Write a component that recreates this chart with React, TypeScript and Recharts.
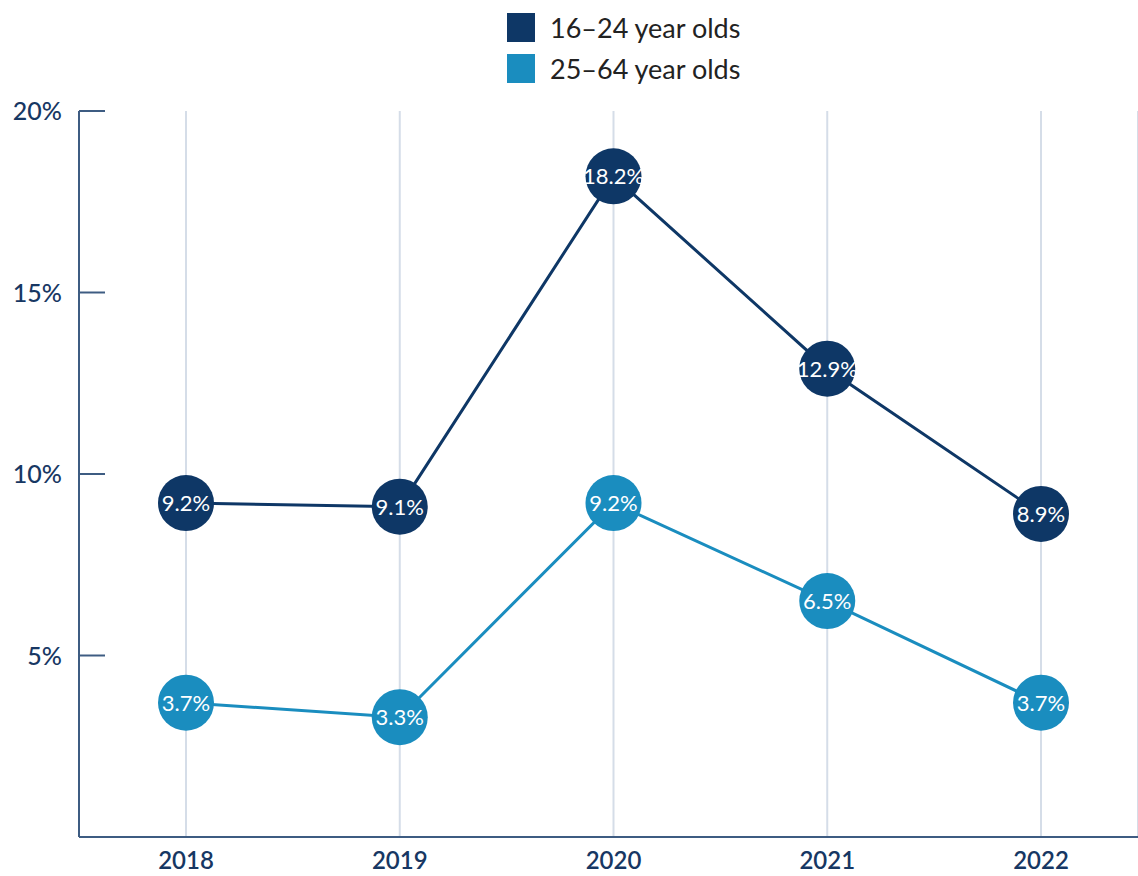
import React from "react";
import { LineChart, Line, XAxis, YAxis, CartesianGrid } from "recharts";

const years = ["2018", "2019", "2020", "2021", "2022"];
const youth = [9.2, 9.1, 18.2, 12.9, 8.9];
const adults = [3.7, 3.3, 9.2, 6.5, 3.7];
const yTicks = [5, 10, 15, 20];
const seriesNames = ["16–24 year olds", "25–64 year olds"];

const DARK = "#0e3766";
const LIGHT = "#1a8dbf";
const AXIS = "#3e5c82";
const TEXT = "#173763";
const FONT = "Lato, 'Open Sans', sans-serif";

const data = years.map((y, i) => ({ year: y, youth: youth[i], adults: adults[i] }));

const makeDot = (color: string) => (props: any) => {
  const { cx, cy, value, index } = props;
  if (cx == null || cy == null) return null;
  return (
    <g key={`d-${color}-${index}`}>
      <circle cx={cx} cy={cy} r={28} fill={color} />
      <text
        x={cx}
        y={cy}
        dy="0.36em"
        textAnchor="middle"
        fill="#ffffff"
        fontSize={22}
        fontWeight={400}
        fontFamily={FONT}
      >
        {`${value}%`}
      </text>
    </g>
  );
};

const YTick = (props: any) => {
  const { x, y, payload } = props;
  return (
    <g>
      <line x1={x + 17} x2={x + 43} y1={y} y2={y} stroke={AXIS} strokeWidth={2} />
      <text
        x={x}
        y={y}
        dy="0.36em"
        textAnchor="end"
        fill={TEXT}
        fontSize={25}
        fontWeight={500}
        fontFamily={FONT}
      >
        {`${payload.value}%`}
      </text>
    </g>
  );
};

export default function App() {
  return (
    <div style={{ position: "absolute", left: 0, top: 0, width: 1138, height: 876, background: "#fff" }}>
      <div style={{ position: "absolute", left: 507, top: 13, fontFamily: FONT, color: "#222" }}>
        {seriesNames.map((n, i) => (
          <div key={n} style={{ display: "flex", alignItems: "center", height: 29, marginBottom: 12 }}>
            <div style={{ width: 28, height: 29, background: i === 0 ? DARK : LIGHT, marginRight: 15 }} />
            <span style={{ fontSize: 27, lineHeight: "29px", fontWeight: 400 }}>{n}</span>
          </div>
        ))}
      </div>
      <LineChart
        width={1138}
        height={876}
        data={data}
        margin={{ top: 111, right: 0, bottom: 0, left: 0 }}
      >
        <CartesianGrid horizontal={false} vertical={true} stroke="#d5dde8" strokeWidth={2} />
        <XAxis
          dataKey="year"
          padding={{ left: 107, right: 97 }}
          height={39}
          tickLine={false}
          tickSize={0}
          tickMargin={15}
          axisLine={{ stroke: AXIS, strokeWidth: 2 }}
          tick={{ fill: TEXT, fontSize: 24, fontWeight: 600, fontFamily: FONT }}
        />
        <YAxis
          domain={[0, 20]}
          ticks={yTicks}
          width={79}
          tickLine={false}
          tickSize={0}
          tickMargin={17}
          axisLine={{ stroke: AXIS, strokeWidth: 2 }}
          tick={<YTick />}
        />
        <Line
          dataKey="youth"
          stroke={DARK}
          strokeWidth={3}
          dot={makeDot(DARK)}
          activeDot={false}
          isAnimationActive={false}
        />
        <Line
          dataKey="adults"
          stroke={LIGHT}
          strokeWidth={3}
          dot={makeDot(LIGHT)}
          activeDot={false}
          isAnimationActive={false}
        />
      </LineChart>
    </div>
  );
}
